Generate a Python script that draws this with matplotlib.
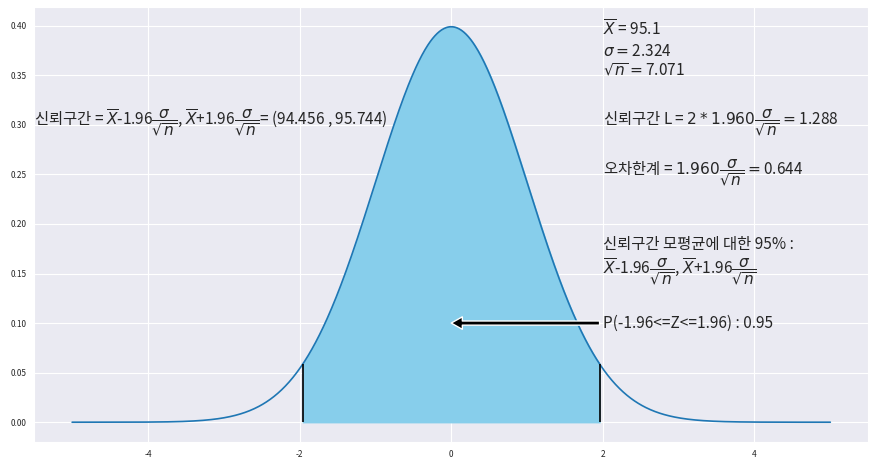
import numpy as np
import matplotlib
matplotlib.use("Agg")
import matplotlib.pyplot as plt
import seaborn as sns

sns.set_style("darkgrid")
plt.rcParams['font.family'] = ['Noto Sans CJK KR', 'DejaVu Sans']
plt.rcParams['axes.unicode_minus'] = False

# parameters of the chart
mu = 0.0
sd = 1.0
z = 1.96
x_lo, x_hi = -5.0, 5.0
xbar = 95.1
sigma = 2.324
sqrt_n = 7.071
ci_lo, ci_hi = 94.456, 95.744
L = 1.288
err = 0.644
prob = 0.95
xticks = [-4, -2, 0, 2, 4]
yticks = [0.00, 0.05, 0.10, 0.15, 0.20, 0.25, 0.30, 0.35, 0.40]

x = np.linspace(x_lo, x_hi, 1000)
pdf = np.exp(-0.5 * ((x - mu) / sd) ** 2) / (sd * np.sqrt(2 * np.pi))

fig = plt.figure(figsize=(8.77, 4.65), dpi=100)
ax = fig.add_axes([0.039, 0.0495, 0.951, 0.9355])
ax.plot(x, pdf, color='#1f77b4', lw=1.2)
mask = (x >= -z) & (x <= z)
ax.fill_between(x[mask], pdf[mask], color='skyblue')
pz = np.exp(-0.5 * z ** 2) / np.sqrt(2 * np.pi)
ax.vlines([-z, z], 0, pz, color='black', lw=1.2)

ax.set_xticks(xticks)
ax.set_yticks(yticks)
ax.set_xticklabels([str(t) for t in xticks])
ax.set_yticklabels([f"{t:.2f}" for t in yticks])
ax.tick_params(labelsize=6, pad=2)

fs = 11.1
frac = r"\dfrac{\sigma}{\sqrt{n}}"
ax.text(2, 0.35, r"$\overline{X}$ = " + f"{xbar}\n" + r"$\sigma=$" + f"{sigma}\n" + r"$\sqrt{n}=$" + f"{sqrt_n}", fontsize=fs)
ax.text(2, 0.30, "신뢰구간 L = " + r"$2*1.960" + frac + "=$" + f"{L}", fontsize=fs)
ax.text(2, 0.25, "오차한계 = " + r"$1.960" + frac + "=$" + f"{err}", fontsize=fs)
ax.text(2, 0.15, "신뢰구간 모평균에 대한 95% :\n" + r"$\overline{X}$-1.96$" + frac + r"$, $\overline{X}$+1.96$" + frac + "$", fontsize=fs)
ax.text(-5.5, 0.30, "신뢰구간 = " + r"$\overline{X}$-1.96$" + frac + r"$, $\overline{X}$+1.96$" + frac + "$" + f"= ({ci_lo} , {ci_hi})", fontsize=fs)
ax.annotate(f"P(-1.96<=Z<=1.96) : {prob}", xy=(0, 0.1), xytext=(2, 0.1),
            fontsize=fs, va='center',
            arrowprops=dict(facecolor='black', width=3, headwidth=9, headlength=8, shrink=0))

fig.savefig("out.png", dpi=100)
